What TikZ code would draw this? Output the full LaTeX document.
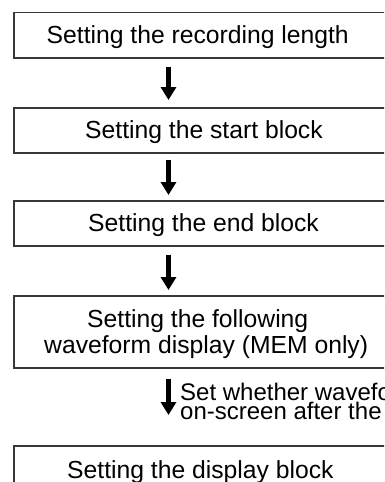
\documentclass[tikz,border=0pt]{standalone}
\usepackage{fontspec}
\setmainfont{Liberation Sans}
\usetikzlibrary{arrows.meta}
\begin{document}
\begin{tikzpicture}[x=1pt,y=-1pt,
  box/.style={draw=black!78,line width=1.5pt,rectangle,minimum width=420pt,anchor=north west,inner sep=0pt},
  lbl/.style={anchor=base west,inner sep=0pt,font=\fontsize{24.7}{26}\selectfont,text=black},
  note/.style={anchor=base west,inner sep=0pt,font=\fontsize{24}{20}\selectfont,text=black},
  flow/.style={line width=4.2pt,-{Triangle[width=15pt,length=13pt]}}]
\useasboundingbox (0,0) rectangle (384,482);
\clip (0,0) rectangle (384,482);
\node[box,minimum height=45.5pt] (b1) at (13,11.5) {};
\node[box,minimum height=45pt] (b2) at (13,107) {};
\node[box,minimum height=45pt] (b3) at (13,200) {};
\node[box,minimum height=72pt] (b4) at (13,295) {};
\node[box,minimum height=60pt] (b5) at (13,445) {};
\node[lbl] (t1) at (46.5,43.3) {Setting the recording length};
\node[lbl] (t2) at (85,138) {Setting the start block};
\node[lbl] (t3) at (88,231.7) {Setting the end block};
\node[lbl] (t4a) at (87,327) {Setting the following};
\node[lbl] (t4b) at (44,353) {waveform display (MEM only)};
\node[lbl] (t5) at (67,478) {Setting the display block};
\node[note] (n1) at (180,400.5) {Set whether waveform is displayed};
\node[note] (n2) at (180,419) {on-screen after the measurement};
\coordinate (ax) at (168.5,0);
\draw[flow] ([yshift=-8pt]b1.south -| ax) -- ([yshift=7pt]b2.north -| ax);
\draw[flow] ([yshift=-6pt]b2.south -| ax) -- ([yshift=5pt]b3.north -| ax);
\draw[flow] ([yshift=-8pt]b3.south -| ax) -- ([yshift=5pt]b4.north -| ax);
\draw[flow] ([yshift=-10pt]b4.south -| ax) -- ([yshift=30pt]b5.north -| ax);
\end{tikzpicture}
\end{document}
